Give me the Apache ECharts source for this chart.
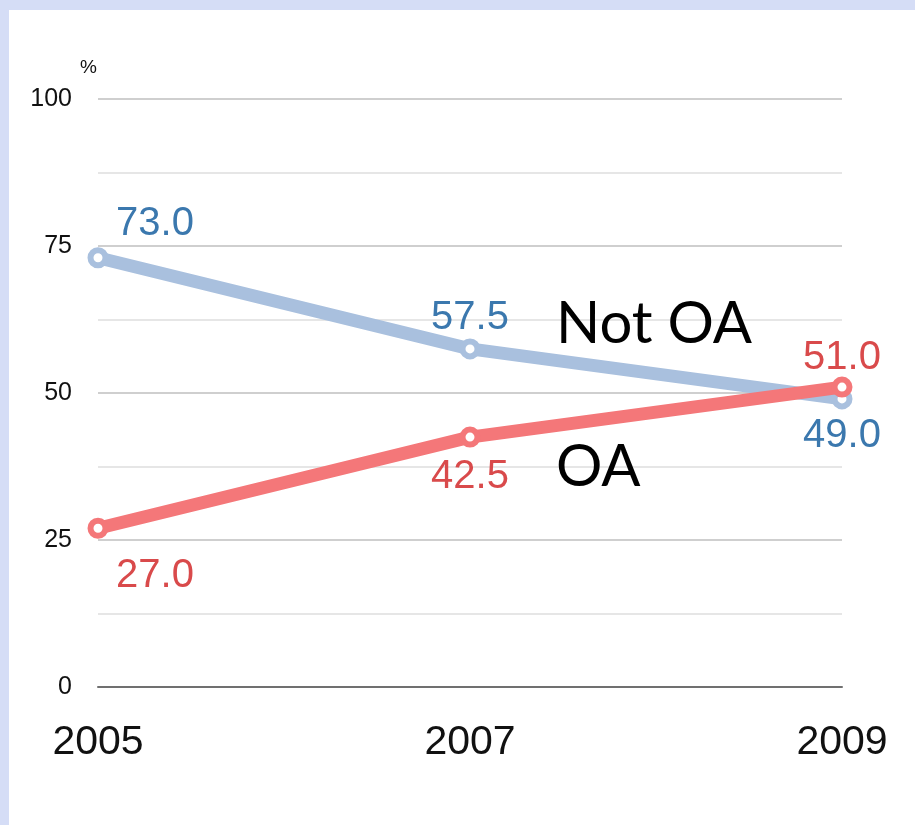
<!DOCTYPE html>
<html>
<head>
<meta charset="utf-8">
<script src="https://cdn.jsdelivr.net/npm/echarts@6/dist/echarts.min.js"></script>
<style>
  html, body { margin: 0; padding: 0; }
  body { width: 915px; height: 825px; background: #d5ddf6; position: relative; overflow: hidden; }
  #panel { position: absolute; left: 9px; top: 10px; right: 0; bottom: 0; background: #ffffff; }
  #chart { position: absolute; left: 0; top: 0; width: 915px; height: 825px; }
</style>
</head>
<body>
<div id="panel"></div>
<div id="chart"></div>
<script>
const years = ['2005', '2007', '2009'];
const notOA = [73.0, 57.5, 49.0];
const oa = [27.0, 42.5, 51.0];
const yTickLabels = ['0', '25', '50', '75', '100'];

const numFont = "'Liberation Sans', Arial, sans-serif";
const blueLine = '#a9c0de', blueText = '#3b78ae';
const redLine = '#f47779', redText = '#d94a4b';

// label placement per point (position, offset)
const notOALabelPos = [['top', [57, 2]], ['top', [0, 5]], ['bottom', [0, 2]]];
const oaLabelPos = [['bottom', [57, 12]], ['bottom', [0, 4]], ['top', [0, 6]]];

function buildData(vals, pos, color) {
  return vals.map((v, i) => ({
    value: v,
    label: { position: pos[i][0], offset: pos[i][1], color: color }
  }));
}

const chart = echarts.init(document.getElementById('chart'), null, { renderer: 'canvas' });
chart.setOption({
  backgroundColor: 'transparent',
  animation: false,
  grid: { left: 98, right: 73, top: 99, bottom: 138, containLabel: false },
  xAxis: {
    type: 'category',
    data: years,
    boundaryGap: false,
    axisLine: { show: true, lineStyle: { color: '#707070', width: 2 } },
    axisTick: { show: false },
    axisLabel: { fontFamily: numFont, fontSize: 41, color: '#111', margin: 35 },
    splitLine: { show: false }
  },
  yAxis: {
    type: 'value',
    min: 0, max: 100, interval: 12.5,
    axisLine: { show: false },
    axisTick: { show: false },
    axisLabel: {
      fontFamily: numFont, fontSize: 25, color: '#111', margin: 26,
      formatter: v => (yTickLabels.indexOf(String(v)) >= 0 ? String(v) : '')
    },
    splitLine: { show: true, lineStyle: { color: ['#cfcfcf', '#e6e6e6'], width: 2 } }
  },
  series: [
    {
      name: 'Not OA', type: 'line', data: buildData(notOA, notOALabelPos, blueText),
      lineStyle: { color: blueLine, width: 13 },
      itemStyle: { color: '#ffffff', borderColor: blueLine, borderWidth: 6 },
      symbol: 'circle', symbolSize: 15, z: 2,
      label: { show: true, fontFamily: numFont, fontSize: 40, formatter: p => p.value.toFixed(1) }
    },
    {
      name: 'OA', type: 'line', data: buildData(oa, oaLabelPos, redText),
      lineStyle: { color: redLine, width: 13 },
      itemStyle: { color: '#ffffff', borderColor: redLine, borderWidth: 6 },
      symbol: 'circle', symbolSize: 15, z: 3,
      label: { show: true, fontFamily: numFont, fontSize: 40, formatter: p => p.value.toFixed(1) }
    }
  ],
  graphic: [
    { type: 'text', left: 80, top: 58, z: 100, style: { text: '%', font: "19px " + numFont, fill: '#111' } },
    { type: 'text', left: 556, top: 295, z: 100, style: { text: 'Not OA', font: "58px Lato, sans-serif", fill: '#000' } },
    { type: 'text', left: 556, top: 438, z: 100, style: { text: 'OA', font: "58px Lato, sans-serif", fill: '#000' } }
  ]
});
</script>
</body>
</html>
